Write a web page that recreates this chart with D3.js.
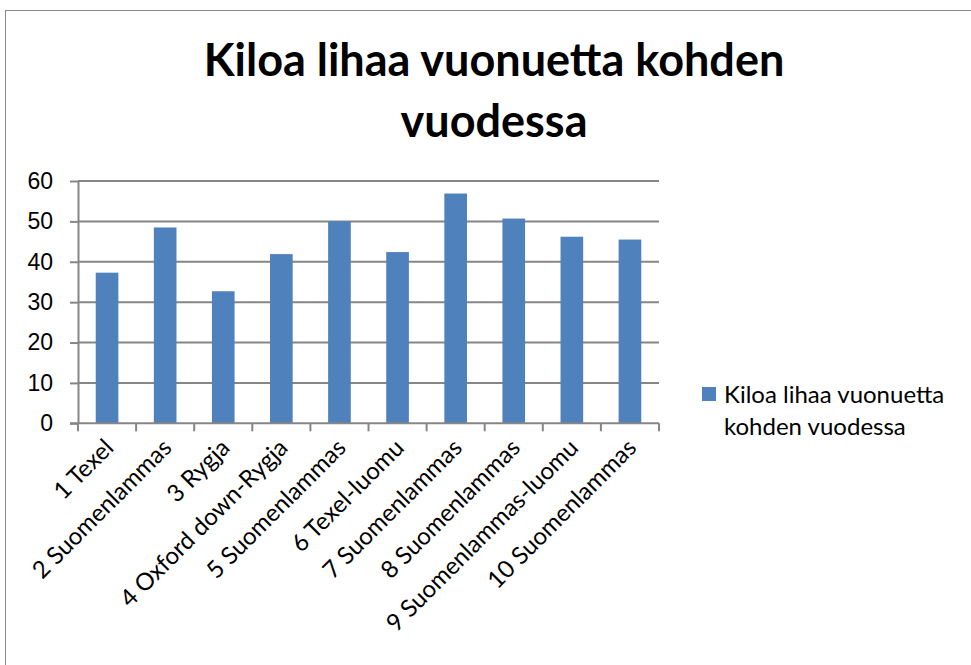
<!DOCTYPE html>
<html>
<head>
<meta charset="utf-8">
<script src="https://cdn.jsdelivr.net/npm/d3@7"></script>
<style>
  body { margin: 0; background: #fff; }
  svg { font-family: Lato, "Open Sans", sans-serif; }
</style>
</head>
<body>
<div id="chart"></div>
<script>
const categories = ["1 Texel", "2 Suomenlammas", "3 Rygja", "4 Oxford down-Rygja", "5 Suomenlammas",
  "6 Texel-luomu", "7 Suomenlammas", "8 Suomenlammas", "9 Suomenlammas-luomu", "10 Suomenlammas"];
const values = [37.3, 48.5, 32.7, 41.9, 50.0, 42.4, 56.9, 50.7, 46.2, 45.5];
const yTicks = [0, 10, 20, 30, 40, 50, 60];
const seriesName = "Kiloa lihaa vuonuetta kohden vuodessa";
const titleLines = ["Kiloa lihaa vuonuetta kohden", "vuodessa"];
const legendLines = ["Kiloa lihaa vuonuetta", "kohden vuodessa"];

const width = 971, height = 665;
const plotLeft = 78, plotRight = 659, plotTop = 181, plotBottom = 423.3;
const barColor = "#4F81BD", gridColor = "#868686";

const svg = d3.select("#chart").append("svg")
  .attr("width", width)
  .attr("height", height);

// chart border
svg.append("rect")
  .attr("x", 5.5).attr("y", 10.5)
  .attr("width", 980).attr("height", 700)
  .attr("fill", "none")
  .attr("stroke", "#898989");

svg.append("text")
  .attr("text-anchor", "middle")
  .attr("font-weight", "bold")
  .attr("font-size", 45)
  .selectAll("tspan")
  .data(titleLines)
  .join("tspan")
  .attr("x", 494)
  .attr("y", (d, i) => 76 + i * 61)
  .text(d => d);

const x = d3.scaleBand().domain(categories).range([plotLeft, plotRight]).paddingInner(0.61).paddingOuter(0.305);
const xTicks = d3.scaleBand().domain(categories).range([plotLeft, plotRight]);
const y = d3.scaleLinear().domain([0, 60]).range([plotBottom, plotTop]);

// gridlines + y axis
const yAxis = svg.append("g")
  .attr("transform", `translate(${plotLeft},0)`)
  .call(d3.axisLeft(y).tickValues(yTicks).tickSize(8).tickPadding(17).tickSizeOuter(0));
yAxis.select(".domain").attr("stroke", gridColor).attr("stroke-width", 2);
yAxis.selectAll(".tick line").attr("stroke", gridColor).attr("stroke-width", 2);
yAxis.selectAll(".tick text").attr("font-size", 23).attr("fill", "#000");
yAxis.selectAll(".grid").data(yTicks.filter(d => d > 0)).join("line")
  .attr("x1", 0).attr("x2", plotRight - plotLeft)
  .attr("y1", d => y(d)).attr("y2", d => y(d))
  .attr("stroke", gridColor).attr("stroke-width", 2);

svg.append("g").selectAll("rect")
  .data(values)
  .join("rect")
  .attr("x", (d, i) => x(categories[i]))
  .attr("y", d => y(d))
  .attr("width", x.bandwidth())
  .attr("height", d => plotBottom - y(d))
  .attr("fill", barColor);

// x axis with ticks at band edges
const xAxis = svg.append("g").attr("transform", `translate(0,${plotBottom})`);
xAxis.append("line")
  .attr("x1", plotLeft - 8).attr("x2", plotRight)
  .attr("stroke", gridColor).attr("stroke-width", 2);
xAxis.selectAll(".tk").data(categories.concat([null])).join("line")
  .attr("x1", (d, i) => plotLeft + i * xTicks.bandwidth())
  .attr("x2", (d, i) => plotLeft + i * xTicks.bandwidth())
  .attr("y1", 0).attr("y2", 8)
  .attr("stroke", gridColor).attr("stroke-width", 2);
xAxis.selectAll("text").data(categories).join("text")
  .attr("transform", d => `translate(${xTicks(d) + xTicks.bandwidth() / 2 + 2},${20}) rotate(-45)`)
  .attr("text-anchor", "end")
  .attr("dy", "0.35em")
  .attr("font-size", 24)
  .text(d => d);

// legend
const legend = svg.append("g");
legend.append("rect")
  .attr("x", 702).attr("y", 387).attr("width", 14).attr("height", 14)
  .attr("fill", barColor);
legend.append("text")
  .attr("font-size", 24)
  .selectAll("tspan")
  .data(legendLines)
  .join("tspan")
  .attr("x", 724)
  .attr("y", (d, i) => 403 + i * 32)
  .text(d => d);
</script>
</body>
</html>
